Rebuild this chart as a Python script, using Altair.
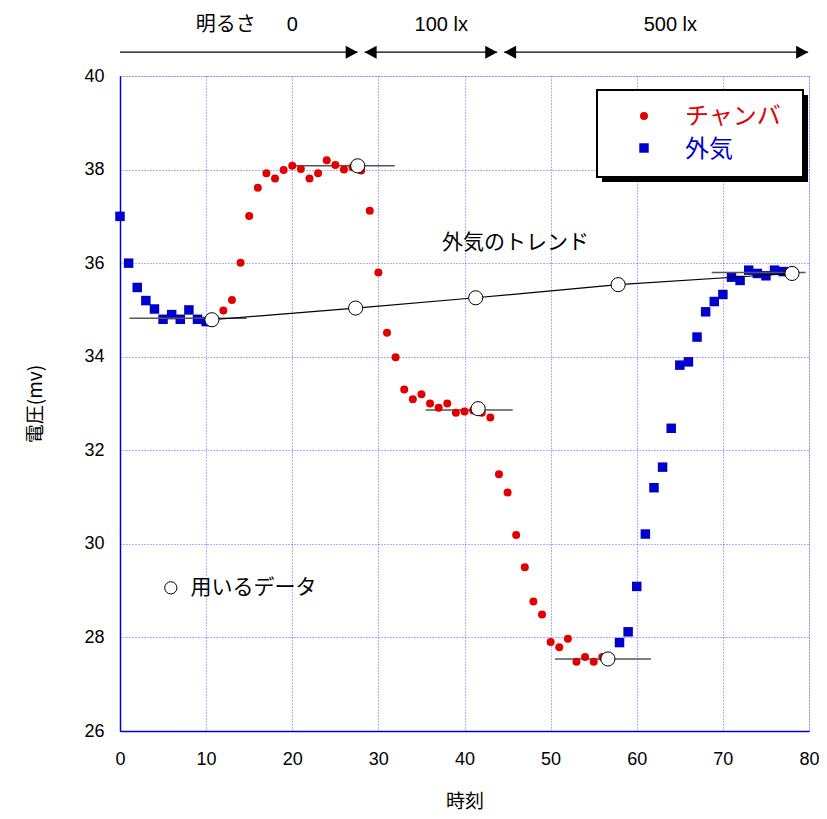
import altair as alt
import pandas as pd

# ---------------- data ----------------
out_t = [0, 1, 2, 3, 4, 5, 6, 7, 8, 9, 10,
         58, 59, 60, 61, 62, 63, 64, 65, 66, 67, 68, 69, 70, 71, 72, 73, 74, 75, 76, 77]
out_v = [37.0, 36.0, 35.48, 35.2, 35.02, 34.8, 34.9, 34.8, 35.0, 34.8, 34.75,
         27.89, 28.12, 29.09, 30.21, 31.2, 31.64, 32.47, 33.82, 33.89, 34.42, 34.96,
         35.18, 35.33, 35.70, 35.63, 35.85, 35.78, 35.73, 35.85, 35.82]

ch_t = list(range(12, 57))
ch_v = [34.99, 35.21, 36.01, 37.01, 37.61, 37.92, 37.81, 37.99, 38.08, 38.01,
        37.81, 37.92, 38.2, 38.1, 38.0, 38.05, 37.98, 37.12, 35.80, 34.51,
        33.99, 33.30, 33.09, 33.2, 33.0, 32.91, 33.0, 32.80, 32.83, 32.85,
        32.8, 32.70, 31.49, 31.1, 30.19, 29.5, 28.77, 28.49, 27.90, 27.79,
        27.97, 27.48, 27.58, 27.48, 27.58]

trend_t = [10.67, 27.36, 41.3, 57.84, 78.03]
trend_v = [34.79, 35.04, 35.26, 35.54, 35.78]

used_t = [10.67, 27.6, 27.36, 41.3, 41.58, 57.84, 56.65, 78.03]
used_v = [34.79, 38.08, 35.04, 35.26, 32.89, 35.54, 27.54, 35.78]

seg_x1 = [1.1, 20.3, 35.5, 50.5, 68.7]
seg_x2 = [14.7, 31.9, 45.6, 61.65, 79.6]
seg_v = [34.82, 38.08, 32.86, 27.54, 35.8]

# top brightness arrows
arr_x1 = [0, 28.4, 44.6]
arr_x2 = [27.6, 43.8, 79.9]
arr_y = 40.51
right_tips = [27.6, 43.8, 79.9]
left_tips = [28.4, 44.6]
top_lbl = ["明るさ", "0", "100 lx", "500 lx"]
top_lbl_x = [8.8, 20.0, 37.3, 63.9]
top_lbl_align = ["left", "center", "center", "center"]

RED = "#e00000"
BLUE = "#0000cc"
JP = "Noto Sans CJK JP"
LAT = "Liberation Sans"

xs = alt.Scale(domain=[0, 80], nice=False)
ys = alt.Scale(domain=[26, 40], nice=False)

df_out = pd.DataFrame({"t": out_t, "v": out_v})
df_ch = pd.DataFrame({"t": ch_t, "v": ch_v})
df_tr = pd.DataFrame({"t": trend_t, "v": trend_v})
df_used = pd.DataFrame({"t": used_t, "v": used_v})
df_seg = pd.DataFrame({"x1": seg_x1, "x2": seg_x2, "v": seg_v})
df_arr = pd.DataFrame({"x1": arr_x1, "x2": arr_x2, "y": [arr_y] * 3})
df_rt = pd.DataFrame({"x": right_tips, "y": [arr_y] * len(right_tips)})
df_lt = pd.DataFrame({"x": left_tips, "y": [arr_y] * len(left_tips)})
df_top = pd.DataFrame({"x": top_lbl_x, "y": [41.1] * 4, "s": top_lbl, "a": top_lbl_align})

GRID = dict(gridColor="#2a2aff", gridDash=[1, 2], gridOpacity=0.75, gridWidth=1)

X = alt.X("t:Q", scale=xs, title="時刻",
          axis=alt.Axis(values=list(range(0, 81, 10)), labelFontSize=18, labelFont=LAT,
                        titleFont=JP, titleFontSize=19, titleFontWeight="normal",
                        labelPadding=19, titlePadding=24, ticks=False, labelFlush=False,
                        domainColor=BLUE, domainWidth=1.5,
                        labelColor="black", titleColor="black", **GRID))
Y = alt.Y("v:Q", scale=ys, title="電圧(mv)",
          axis=alt.Axis(values=list(range(26, 41, 2)), labelFontSize=18, labelFont=LAT,
                        titleFont=JP, titleFontSize=19, titleFontWeight="normal",
                        labelPadding=16, titlePadding=38, ticks=False, labelFlush=False,
                        domainColor=BLUE, domainWidth=1.5,
                        labelColor="black", titleColor="black", **GRID))

base_out = alt.Chart(df_out).mark_square(size=90, color=BLUE, opacity=1).encode(x=X, y=Y)

segs = alt.Chart(df_seg).mark_rule(color="#555555", strokeWidth=1.5).encode(
    x=alt.X("x1:Q", scale=xs), x2="x2:Q", y=alt.Y("v:Q", scale=ys))

trend = alt.Chart(df_tr).mark_line(color="black", strokeWidth=1.2).encode(
    x=alt.X("t:Q", scale=xs), y=alt.Y("v:Q", scale=ys))

chamber = alt.Chart(df_ch).mark_circle(size=64, color=RED, opacity=1).encode(
    x=alt.X("t:Q", scale=xs), y=alt.Y("v:Q", scale=ys))

used = alt.Chart(df_used).mark_point(size=200, shape="circle", filled=False, fill="white",
                                     fillOpacity=1, stroke="black", strokeWidth=1, opacity=1).encode(
    x=alt.X("t:Q", scale=xs), y=alt.Y("v:Q", scale=ys))

arrows = alt.Chart(df_arr).mark_rule(color="black", strokeWidth=1.2).encode(
    x=alt.X("x1:Q", scale=xs), x2="x2:Q", y=alt.Y("y:Q", scale=ys))
rheads = alt.Chart(df_rt).mark_point(shape="M0,0L-1.2,-0.65L-1.2,0.65Z", size=400, filled=True,
                                     color="black", opacity=1).encode(
    x=alt.X("x:Q", scale=xs), y=alt.Y("y:Q", scale=ys))
lheads = alt.Chart(df_lt).mark_point(shape="M0,0L1.2,-0.65L1.2,0.65Z", size=400, filled=True,
                                     color="black", opacity=1).encode(
    x=alt.X("x:Q", scale=xs), y=alt.Y("y:Q", scale=ys))

top_left = alt.Chart(df_top[df_top["a"] == "left"]).mark_text(
    font=JP, fontSize=20, align="left", baseline="middle", color="black").encode(
    x=alt.X("x:Q", scale=xs), y=alt.Y("y:Q", scale=ys), text="s:N")
top_center = alt.Chart(df_top[df_top["a"] == "center"]).mark_text(
    font=LAT, fontSize=20, align="center", baseline="middle", color="black").encode(
    x=alt.X("x:Q", scale=xs), y=alt.Y("y:Q", scale=ys), text="s:N")

trend_lbl = alt.Chart(pd.DataFrame({"x": [37.4], "y": [36.43], "s": ["外気のトレンド"]})).mark_text(
    font=JP, fontSize=21, align="left", baseline="middle", color="black").encode(
    x=alt.X("x:Q", scale=xs), y=alt.Y("y:Q", scale=ys), text="s:N")

used_key = alt.Chart(pd.DataFrame({"x": [5.9], "y": [29.06]})).mark_point(
    size=150, shape="circle", filled=False, stroke="black", strokeWidth=1, opacity=1).encode(
    x=alt.X("x:Q", scale=xs), y=alt.Y("y:Q", scale=ys))
used_lbl = alt.Chart(pd.DataFrame({"x": [8.2], "y": [29.06], "s": ["用いるデータ"]})).mark_text(
    font=JP, fontSize=21, align="left", baseline="middle", color="black").encode(
    x=alt.X("x:Q", scale=xs), y=alt.Y("y:Q", scale=ys), text="s:N")

# ---- custom legend box (pixel positions within the plot area) ----
leg_df = pd.DataFrame({"d": [0]})
shadow = alt.Chart(leg_df).mark_rect(color="black").encode(
    x=alt.value(482), x2=alt.value(688), y=alt.value(19), y2=alt.value(106))
box = alt.Chart(leg_df).mark_rect(fill="white", stroke="black", strokeWidth=2).encode(
    x=alt.value(477), x2=alt.value(683), y=alt.value(14), y2=alt.value(101))
leg_dot = alt.Chart(leg_df).mark_circle(size=64, color=RED, opacity=1).encode(
    x=alt.value(524), y=alt.value(40))
leg_sq = alt.Chart(leg_df).mark_square(size=90, color=BLUE, opacity=1).encode(
    x=alt.value(524), y=alt.value(72))
leg_t1 = alt.Chart(leg_df).mark_text(font=JP, fontSize=24, align="left", baseline="middle",
                                     color=RED, text="チャンバ").encode(
    x=alt.value(565), y=alt.value(41))
leg_t2 = alt.Chart(leg_df).mark_text(font=JP, fontSize=24, align="left", baseline="middle",
                                     color=BLUE, text="外気").encode(
    x=alt.value(565), y=alt.value(74))

chart = alt.layer(
    base_out, segs, trend, chamber, used,
    arrows, rheads, lheads, top_left, top_center, trend_lbl, used_key, used_lbl,
    shadow, box, leg_dot, leg_sq, leg_t1, leg_t2
).properties(
    width=689, height=655,
    autosize=alt.AutoSizeParams(type="none"),
    padding={"left": 112, "top": 68, "right": 10, "bottom": 86},
).configure_view(stroke=BLUE, strokeWidth=1.5).configure(background="white")

chart.save("out.html", embed_options={"renderer": "svg", "actions": False})
